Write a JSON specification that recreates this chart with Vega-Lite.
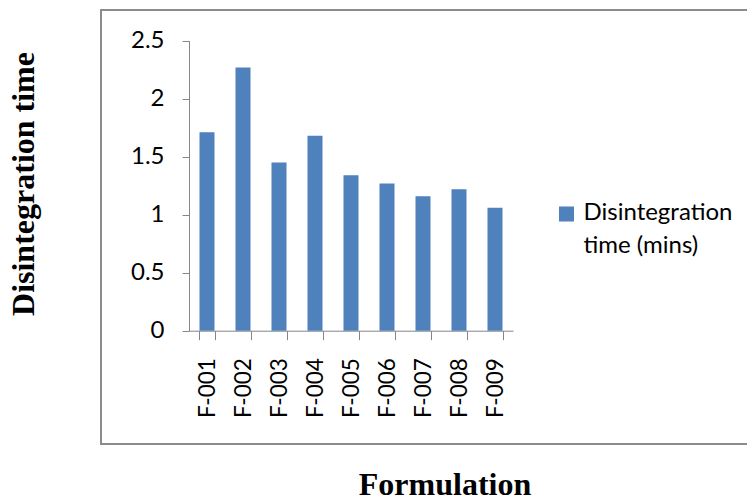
{
  "$schema": "https://vega.github.io/schema/vega-lite/v6.json",
  "autosize": "none",
  "padding": {"left": 101, "top": 10, "right": -2, "bottom": 57},
  "width": 648,
  "height": 434,
  "background": "white",
  "data": {
    "values": [
      {"formulation": "F-001", "time": 1.71, "series": "Disintegration time (mins)"},
      {"formulation": "F-002", "time": 2.27, "series": "Disintegration time (mins)"},
      {"formulation": "F-003", "time": 1.45, "series": "Disintegration time (mins)"},
      {"formulation": "F-004", "time": 1.68, "series": "Disintegration time (mins)"},
      {"formulation": "F-005", "time": 1.34, "series": "Disintegration time (mins)"},
      {"formulation": "F-006", "time": 1.27, "series": "Disintegration time (mins)"},
      {"formulation": "F-007", "time": 1.16, "series": "Disintegration time (mins)"},
      {"formulation": "F-008", "time": 1.22, "series": "Disintegration time (mins)"},
      {"formulation": "F-009", "time": 1.06, "series": "Disintegration time (mins)"}
    ]
  },
  "mark": {"type": "bar"},
  "encoding": {
    "x": {
      "field": "formulation",
      "type": "nominal",
      "sort": null,
      "scale": {"range": [88, 412], "paddingInner": 0.583, "paddingOuter": 0.2915},
      "axis": {
        "title": "Formulation",
        "titleFont": "Liberation Serif",
        "titleFontSize": 32,
        "titleFontWeight": "bold",
        "titleColor": "black",
        "titleX": 343.5,
        "titleY": 164,
        "titleAlign": "center",
        "titleBaseline": "alphabetic",
        "titleAngle": 0,
        "offset": -113.3,
        "labelAngle": -90,
        "labelFont": "Lato",
        "labelFontSize": 22.5,
        "labelColor": "black",
        "labelPadding": 18,
        "tickBand": "extent",
        "tickSize": 9,
        "tickColor": "#868686",
        "domainColor": "#868686",
        "grid": false
      }
    },
    "y": {
      "field": "time",
      "type": "quantitative",
      "scale": {"domain": [0, 2.5], "range": [320.7, 30.7], "nice": false},
      "axis": {
        "title": "Disintegration time",
        "titleFont": "Liberation Serif",
        "titleFontSize": 32,
        "titleFontWeight": "bold",
        "titleColor": "black",
        "titleAngle": -90,
        "titleX": -156,
        "titleY": 173.5,
        "titleAlign": "center",
        "titleBaseline": "alphabetic",
        "offset": -88,
        "values": [0, 0.5, 1, 1.5, 2, 2.5],
        "format": "~g",
        "labelFont": "Lato",
        "labelFontSize": 24,
        "labelColor": "black",
        "labelPadding": 18,
        "labelFlush": false,
        "labelOverlap": false,
        "tickSize": 7,
        "tickColor": "#868686",
        "domainColor": "#868686",
        "grid": false
      }
    },
    "color": {
      "field": "series",
      "type": "nominal",
      "scale": {"range": ["#4F81BD"]},
      "legend": {
        "title": null,
        "orient": "none",
        "legendX": 453.5,
        "legendY": 192,
        "padding": 0,
        "symbolType": "square",
        "symbolSize": 225,
        "symbolStrokeWidth": 0,
        "labelFont": "Lato",
        "labelFontSize": 24,
        "labelColor": "black",
        "labelOffset": 5,
        "labelLimit": 300,
        "labelBaseline": "alphabetic",
        "labelExpr": "['Disintegration', 'time (mins)']",
        "encoding": {"labels": {"dy": {"value": 6}}}
      }
    }
  },
  "config": {
    "view": {"stroke": "#8c8c8c", "strokeWidth": 2},
    "style": {"guide-label": {"lineHeight": 33}}
  }
}
